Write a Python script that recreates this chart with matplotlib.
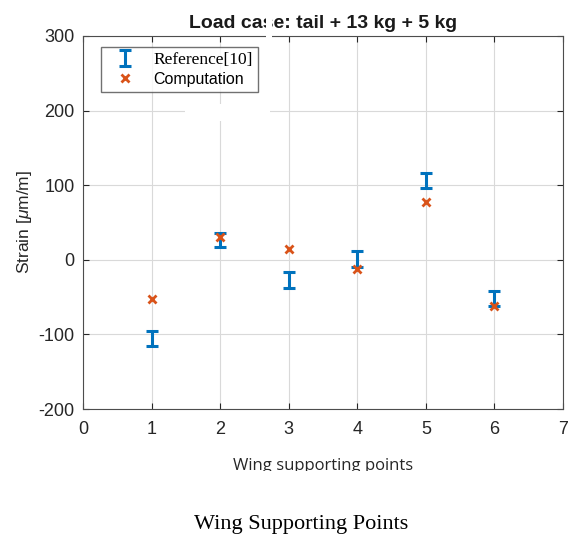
import numpy as np
import matplotlib
matplotlib.use('Agg')
import matplotlib.pyplot as plt
from matplotlib.patches import Rectangle

# Datos
puntos = [1, 2, 3, 4, 5, 6]
ref_media = [-106, 27, -27, 1, 106, -52]
ref_error = [10, 9.5, 10.5, 10.5, 10, 10]
computo = [-52, 30, 15, -12, 77, -62]

azul = (0, 0.447, 0.741)
naranja = (0.85, 0.325, 0.098)

plt.rcParams['font.family'] = ['Liberation Sans', 'DejaVu Sans']
plt.rcParams['mathtext.fontset'] = 'custom'
plt.rcParams['mathtext.it'] = 'Liberation Sans:italic'
plt.rcParams['mathtext.rm'] = 'Liberation Sans'
plt.rcParams['axes.unicode_minus'] = False

W, H = 568, 537
fig = plt.figure(figsize=(W / 100, H / 100), dpi=100)
ax = fig.add_axes([83 / W, 1 - 409 / H, 480 / W, 373 / H])

eb = ax.errorbar(puntos, ref_media, yerr=ref_error, fmt='none', ecolor=azul,
                 elinewidth=2.2, capsize=4, capthick=2.2, zorder=3)
mk, = ax.plot(puntos, computo, 'x', color=naranja, ms=5.5, mew=2, zorder=4)

ax.set_xlim(0, 7)
ax.set_ylim(-200, 300)
ax.set_xticks(range(0, 8))
ax.set_yticks(range(-200, 301, 100))
ax.grid(True, color='0.85', linewidth=0.8)
ax.set_axisbelow(True)
ax.tick_params(direction='in', top=True, right=True, labelsize=13,
               colors='0.15', length=4)
ax.tick_params(axis='x', pad=9)
ax.tick_params(axis='y', pad=6)
for s in ax.spines.values():
    s.set_color('0.3')
    s.set_linewidth(0.8)

ax.set_ylabel(r'Strain [$\mu$m/m]', fontsize=12.5, color='0.15', labelpad=3)
ax.set_title('Load case: tail + 13 kg + 5 kg', fontsize=14,
             fontweight='bold', color='0.1', pad=6)

leg = ax.legend([eb, mk], ['Reference[10]', 'Computation'], loc='upper left',
                bbox_to_anchor=(18 / 480, 1 - 11 / 373), fontsize=11.5,
                frameon=True, fancybox=False, edgecolor='0.3',
                borderpad=0.3, handlelength=2.4, handletextpad=0.6,
                labelspacing=0.25, borderaxespad=0)
leg.get_frame().set_linewidth(1.0)
leg.get_texts()[0].set_family('Liberation Serif')
leg.get_texts()[0].set_fontsize(12.5)

# xlabel cortado en la imagen original
fig.text(323 / W, 1 - 466 / H, 'Wing supporting points', ha='center',
         va='center', fontsize=12, color='0.15', family='Open Sans', zorder=1)
fig.patches.append(Rectangle((0, 0), 1, 1 - 471 / H, transform=fig.transFigure,
                             facecolor='white', edgecolor='none', zorder=5))

# manchas blancas de la imagen original
fig.patches.append(Rectangle((185 / W, 1 - 121 / H), 85 / W, 17 / H,
                             transform=fig.transFigure, facecolor='white',
                             edgecolor='none', zorder=5))
fig.patches.append(Rectangle((266 / W, 1 - 38 / H), 6 / W, 30 / H,
                             transform=fig.transFigure, facecolor='white',
                             edgecolor='none', zorder=5))

fig.text(301 / W, 1 - 524 / H, 'Wing Supporting Points', ha='center',
         va='center', fontsize=16, color='black', family='Liberation Serif',
         zorder=6)

fig.savefig('out.png', dpi=100)
